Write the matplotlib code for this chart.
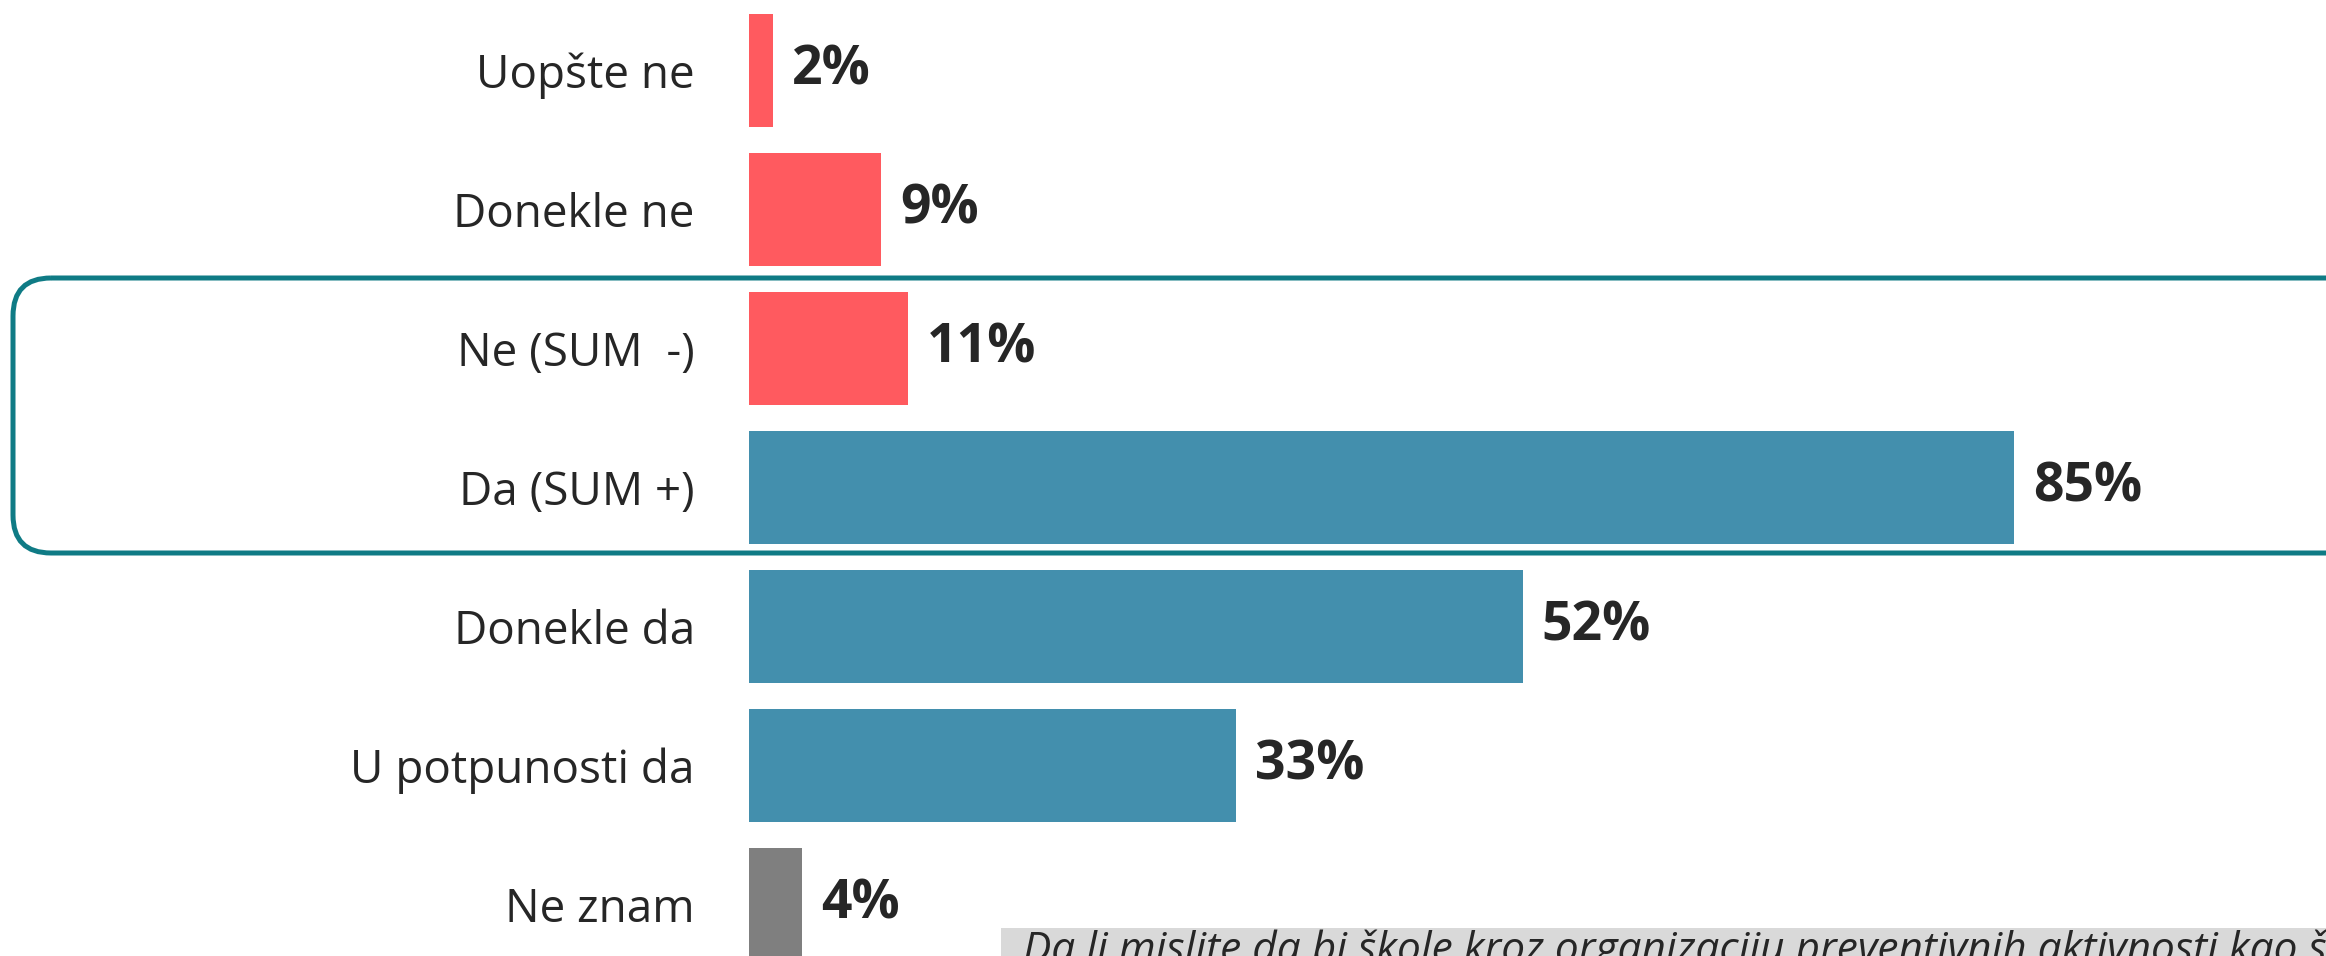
import matplotlib.pyplot as plt
from matplotlib.patches import FancyBboxPatch, Rectangle

# podaci
categories = ['Uopšte ne', 'Donekle ne', 'Ne (SUM  -)', 'Da (SUM +)',
              'Donekle da', 'U potpunosti da', 'Ne znam']
values = [1.6, 8.9, 10.7, 85.2, 52.1, 32.8, 3.6]
groups = ['neg', 'neg', 'neg', 'pos', 'pos', 'pos', 'dk']
question = 'Da li mislite da bi škole kroz organizaciju preventivnih aktivnosti kao što su radionice, predavanja i tribine mogle da pomognu?'

COLORS = {'neg': '#FF5A5F', 'pos': '#438FAD', 'dk': '#7F7F7F'}
TEXT = '#262626'

W, H = 2326, 956
fig = plt.figure(figsize=(W / 100, H / 100), dpi=100)
fig.patch.set_facecolor('white')

# pozadinski sloj u pikselima (okvir i siva traka)
bg = fig.add_axes([0, 0, 1, 1])
bg.set_xlim(0, W)
bg.set_ylim(H, 0)
bg.axis('off')

box = FancyBboxPatch((13, 278), 2400, 275, boxstyle='round,pad=0,rounding_size=38',
                     facecolor='none', edgecolor='#0F7B85', linewidth=3.6, zorder=5)
bg.add_patch(box)
bg.add_patch(Rectangle((1001, 928), 1400, 40, facecolor='#D9D9D9', edgecolor='none', zorder=1))
# pitanje je u originalu odsečeno desnom ivicom
bg.text(1023, 930, question, fontsize=30.5, style='italic', color=TEXT, family='Open Sans',
        va='top', ha='left', zorder=2, clip_on=True)

# grafikon
left = 749
ax = fig.add_axes([left / W, 0, (W - left) / W, 1])
ax.patch.set_alpha(0)
px_per_pct = 14.85
ax.set_xlim(0, (W - left) / px_per_pct)
spacing = 139
ax.set_ylim((H - 70.5) / spacing, -70.5 / spacing)

ypos = list(range(len(categories)))
ax.barh(ypos, values, height=113 / spacing, color=[COLORS[g] for g in groups])

for y, v in zip(ypos, values):
    ax.text(v + 19 / px_per_pct, y, f'{v:.0f}%', va='center', ha='left',
            fontsize=38.5, fontweight='bold', color=TEXT, family='Open Sans')

ax.set_yticks(ypos)
ax.set_yticklabels(categories, fontsize=33, color=TEXT, family='Open Sans')
ax.tick_params(axis='y', length=0, pad=39)
ax.set_xticks([])
for s in ax.spines.values():
    s.set_visible(False)

plt.savefig('out.png', dpi=100, facecolor='white')
